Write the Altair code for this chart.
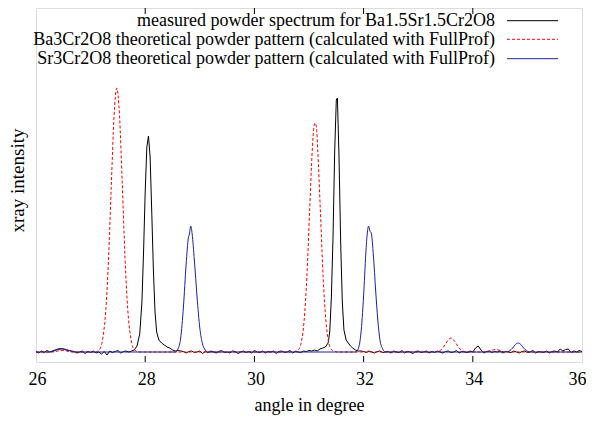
import altair as alt
import pandas as pd

# ---------------- data (intensity in arbitrary units, 0 = baseline) ----------------
STEP = 0.05

# measured powder spectrum (black): baseline noise segments (start angle, values every 0.05 deg)
meas_seg1_start = 26.00
meas_seg1 = [0.5, -1, 1, -0.5, 1.5, 0]
meas_bump_angle = [26.30, 26.35, 26.40, 26.45, 26.50, 26.55, 26.60, 26.65]
meas_bump_int = [1, 2, 3, 3.5, 3, 2, 1.5, 1]
meas_seg2_start = 26.70
meas_seg2 = [0.5, -1, 0, 1, -1.5, 0.5, -0.5, 1, -1, 0,
             -2, 0.5, -3, 1, -0.5, 0.5, 1.5, -1, 0.5, 1, 0]
meas_peak1_angle = [27.75, 27.80, 27.85, 27.90, 27.94, 27.97, 28.00, 28.03, 28.06, 28.09,
                    28.12, 28.15, 28.18, 28.21, 28.25, 28.30, 28.35, 28.40, 28.45, 28.50, 28.55]
meas_peak1_int = [1, 2, 6, 18, 50, 100, 160, 205, 216, 195,
                  140, 82, 40, 20, 12, 9, 7, 5, 4, 2, 1]
meas_seg3_start = 28.60
meas_seg3 = [1.5, 1, 0.5, -1, 0.5, 1, -0.5, 0, 1, -1.5,
             0.5, -0.5, 1, 0, -1, 0.5, 1.5, -0.5, 0, -1,
             1, 0.5, -1.5, 0, 1, -0.5, 0.5, -1, 1.5, 0,
             -0.5, 1, -1, 0.5, 0, 1, -1.5, 0.5, 1, -0.5,
             0, 1.5, -1, 0.5, 0, -0.5, 1, 0.5, 1.5, 1,
             2]
meas_peak2_angle = [31.15, 31.20, 31.25, 31.30, 31.35, 31.38, 31.41, 31.44, 31.47, 31.50,
                    31.52, 31.55, 31.58, 31.61, 31.64, 31.68, 31.72, 31.76, 31.80, 31.85, 31.90]
meas_peak2_int = [1, 3, 4, 5, 9, 20, 55, 115, 200, 252,
                  254, 195, 110, 50, 22, 12, 9, 6, 4, 2, 1]
meas_seg4_start = 31.95
meas_seg4 = [1, 0.5, -0.5, 1, 0, -1, 0.5, 1, -0.5, 0,
             0.5, -1, 1, 0, -0.5, 1.5, -1, 0.5, 0, -1.5,
             0.5, 1, -0.5, 0, 1, -1, 0.5, -0.5, 1, 0,
             -1, 0.5, 1, -0.5, 0, 1.5, -1, 0.5, 0, -0.5,
             1, 0, 4, 6, 2, -1, 0.5, 1, -0.5, 0.5,
             0, 1, -1, 0.5, 0, -0.5, 1, 0, -1, 0.5,
             1, -0.5, 0, 1.5, -1, 0.5, 0, -0.5, 1, -1,
             0.5, 1, 0, 3, 1, 2.5, 3, -0.5, 1, 0,
             1.5, 0.5]

# Ba3Cr2O8 theoretical pattern (red dashed)
ba_angle = [26.00, 26.30, 26.40, 26.48, 26.56, 26.65,
            27.10, 27.13, 27.18, 27.23, 27.28, 27.33, 27.38, 27.43, 27.48, 27.53, 27.58,
            27.63, 27.68, 27.73, 27.78, 27.83, 27.88,
            30.70, 30.76, 30.81, 30.86, 30.91, 30.96, 31.01, 31.06, 31.09, 31.11, 31.135,
            31.16, 31.21, 31.26, 31.31, 31.36, 31.41, 31.46, 31.52,
            33.30, 33.40, 33.45, 33.50, 33.55, 33.60, 33.65, 33.70, 33.75, 33.80, 33.90,
            34.25, 34.33, 34.42, 34.50, 34.58, 36.00]
ba_int = [0, 0, 1, 1.5, 1, 0,
          0, 1, 4, 16, 43, 95, 168, 236, 264, 236, 168,
          95, 43, 16, 4, 1, 0,
          0, 1, 2.5, 10, 31, 74, 139, 202, 225, 229, 225,
          202, 139, 74, 31, 10, 2.5, 1, 0,
          0, 1.5, 4, 8, 12, 14, 12, 8, 4, 1.5, 0,
          0, 1.5, 2.5, 1.5, 0, 0]

# Sr3Cr2O8 theoretical pattern (blue)
sr_angle = [26.00, 26.25, 26.33, 26.40, 26.48, 26.56, 26.63, 26.70,
            28.55, 28.60, 28.65, 28.70, 28.75, 28.79, 28.81, 28.835, 28.86, 28.90, 28.95,
            29.00, 29.05, 29.10, 29.15,
            31.85, 31.90, 31.95, 32.00, 32.04, 32.07, 32.09, 32.115, 32.14, 32.18, 32.22,
            32.26, 32.30, 32.35, 32.40,
            34.60, 34.68, 34.73, 34.78, 34.83, 34.88, 34.93, 34.98, 35.05, 36.00]
sr_int = [0, 0, 1, 2.5, 3, 2.5, 1, 0,
          0, 3, 14, 45, 88, 114, 118, 126, 118, 92, 55,
          24, 8, 2, 0,
          0, 3, 18, 56, 98, 120, 126, 121, 119, 96, 62,
          32, 12, 3, 0,
          0, 1.5, 4, 7.5, 9, 7.5, 4, 1.5, 0, 0]

tick_angles = [28, 30, 32, 34]
axis_labels = [26, 28, 30, 32, 34, 36]

legend_labels = [
    "measured powder spectrum for Ba1.5Sr1.5Cr2O8",
    "Ba3Cr2O8 theoretical powder pattern (calculated with FullProf)",
    "Sr3Cr2O8 theoretical powder pattern (calculated with FullProf)",
]

# ---------------- build tables ----------------
def seg(start, vals):
    return [round(start + i * STEP, 2) for i in range(len(vals))], list(vals)

a1, v1 = seg(meas_seg1_start, meas_seg1)
a2, v2 = seg(meas_seg2_start, meas_seg2)
a3, v3 = seg(meas_seg3_start, meas_seg3)
a4, v4 = seg(meas_seg4_start, meas_seg4)
meas_angle = a1 + meas_bump_angle + a2 + meas_peak1_angle + a3 + meas_peak2_angle + a4
meas_int = v1 + meas_bump_int + v2 + meas_peak1_int + v3 + meas_peak2_int + v4

df_meas = pd.DataFrame({"angle": meas_angle, "intensity": meas_int})
df_ba = pd.DataFrame({"angle": ba_angle, "intensity": ba_int})
df_sr = pd.DataFrame({"angle": sr_angle, "intensity": sr_int})
df_ticks = pd.DataFrame({"angle": tick_angles})

W, H = 546, 354
FONT = "Liberation Serif"
RED = "#ff0000"
BLUE = "#20209a"

xs = alt.Scale(domain=[26, 36], nice=False, zero=False)
ys = alt.Scale(domain=[-10, 344], nice=False, zero=False)

x_axis = alt.Axis(values=axis_labels, format="d", grid=False, domain=False, ticks=False,
                  labelFont=FONT, labelFontSize=18, labelColor="black", labelPadding=8,
                  labelFlush=False,
                  labelOffset={"condition": {"test": "datum.value == 36", "value": -5}, "value": 1},
                  titleFont=FONT, titleFontSize=18, titleFontWeight="normal",
                  titleColor="black", titleY=48, titleBaseline="alphabetic")
y_axis = alt.Axis(labels=False, ticks=False, domain=False, grid=False,
                  titleFont=FONT, titleFontSize=19, titleFontWeight="normal", titleColor="black",
                  titleX=-13, titleY=H / 2 - 5, titleAngle=270, titleBaseline="alphabetic")

meas = alt.Chart(df_meas).mark_line(color="black", strokeWidth=1).encode(
    x=alt.X("angle:Q", scale=xs, axis=x_axis, title="angle in degree"),
    y=alt.Y("intensity:Q", scale=ys, axis=y_axis, title="xray intensity"),
)
ba = alt.Chart(df_ba).mark_line(color=RED, strokeWidth=1, strokeDash=[3, 2],
                                interpolate="monotone").encode(
    x=alt.X("angle:Q", scale=xs), y=alt.Y("intensity:Q", scale=ys))
sr = alt.Chart(df_sr).mark_line(color=BLUE, strokeWidth=1, interpolate="monotone").encode(
    x=alt.X("angle:Q", scale=xs), y=alt.Y("intensity:Q", scale=ys))

ticks_bottom = alt.Chart(df_ticks).mark_rule(color="black", strokeWidth=1).encode(
    x=alt.X("angle:Q", scale=xs), y=alt.value(H), y2=alt.value(H - 6))
ticks_top = alt.Chart(df_ticks).mark_rule(color="black", strokeWidth=1).encode(
    x=alt.X("angle:Q", scale=xs), y=alt.value(0), y2=alt.value(6))

# legend (inside, top right: label then line sample)
leg_text_x = 459
leg_line_x1, leg_line_x2 = 471, 522
leg_rows_y = [12.7, 31.3, 50.7]
leg_colors = ["black", RED, BLUE]
leg_dash = [[1, 0], [3, 2], [1, 0]]

legend_layers = []
for i, lab in enumerate(legend_labels):
    dfl = pd.DataFrame({"label": [lab]})
    legend_layers.append(
        alt.Chart(dfl).mark_text(align="right", baseline="middle", font=FONT, fontSize=18,
                                 color="black").encode(
            text="label:N", x=alt.value(leg_text_x), y=alt.value(leg_rows_y[i] + 0.5)))
    legend_layers.append(
        alt.Chart(dfl).mark_rule(color=leg_colors[i], strokeWidth=1,
                                 strokeDash=leg_dash[i]).encode(
            x=alt.value(leg_line_x1), x2=alt.value(leg_line_x2), y=alt.value(leg_rows_y[i])))

chart = alt.layer(meas, ba, sr, ticks_bottom, ticks_top, *legend_layers).properties(
    width=W, height=H,
    autosize=alt.AutoSizeParams(type="none"),
    padding={"left": 28, "top": 0, "right": 4, "bottom": 53},
).configure_axis(labelFont=FONT, titleFont=FONT).configure_view(
    stroke="#333333", strokeWidth=1.2).configure(background="white")

chart.save("out.html", embed_options={"renderer": "svg", "actions": False})
